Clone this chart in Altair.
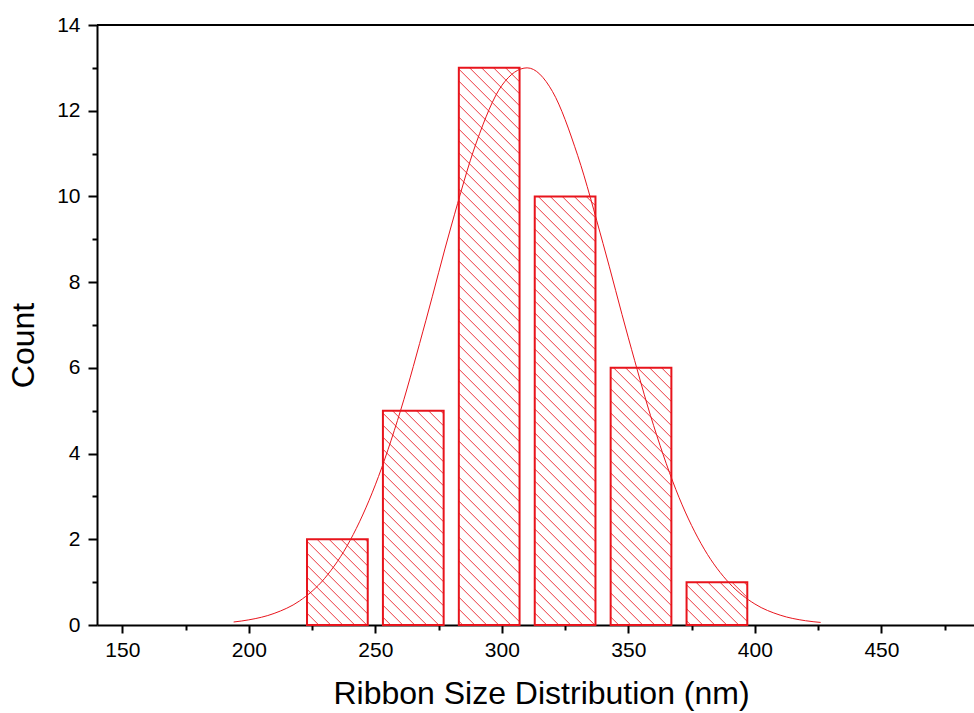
import altair as alt
import pandas as pd

# ---- data ----
bin_centers = [235, 265, 295, 325, 355, 385]
counts = [2, 5, 13, 10, 6, 1]
bar_half_width = 12

fit_x = [194, 200, 210, 220, 230, 240, 250, 260, 270, 280, 290, 300, 310,
         320, 330, 340, 350, 360, 370, 380, 390, 400, 410, 420, 426]
fit_y = [0.07, 0.12, 0.27, 0.56, 1.09, 1.97, 3.27, 5.01, 7.11, 9.31, 11.27, 12.59, 13.0,
         12.45, 10.95, 8.9, 6.7, 4.65, 2.98, 1.77, 0.97, 0.49, 0.23, 0.10, 0.06]

x_ticks = [150, 175, 200, 225, 250, 275, 300, 325, 350, 375, 400, 425, 450, 475]
y_ticks = list(range(0, 15))

X_MIN, X_MAX = 140, 486.6
Y_MIN, Y_MAX = 0, 14
W, H = 877, 600
RED = "#e8141c"
FONT = "Liberation Sans"

bars = pd.DataFrame({
    "center": bin_centers,
    "count": counts,
})
bars["x0"] = bars["center"] - bar_half_width
bars["x1"] = bars["center"] + bar_half_width
bars["y0"] = 0

# hatch lines (45 degree "\" pattern) built from bar data
px_per_nm = W / (X_MAX - X_MIN)
px_per_count = H / (Y_MAX - Y_MIN)
r = px_per_count / px_per_nm          # nm per count along a 45deg line
step = 12 / px_per_nm                 # horizontal spacing of hatch lines
segs = []
for _, b in bars.iterrows():
    x0, x1, h = b["x0"], b["x1"], b["count"]
    k = int(x0 // step) + 1
    while k * step < x1 + r * h:
        c = k * step
        ca = min(h, (c - x0) / r)
        cb = max(0.0, (c - x1) / r)
        if ca > cb:
            segs.append({"xa": c - r * ca, "ya": ca, "xb": c - r * cb, "yb": cb})
        k += 1
hatch = pd.DataFrame(segs)

fit = pd.DataFrame({"x": fit_x, "y": fit_y})

xscale = alt.Scale(domain=[X_MIN, X_MAX], nice=False, zero=False)
yscale = alt.Scale(domain=[Y_MIN, Y_MAX], nice=False, zero=False)

x_axis = alt.Axis(
    values=x_ticks,
    labelExpr="datum.value % 50 == 0 ? datum.label : ''",
    tickSize={"condition": {"test": "datum.value % 50 == 0", "value": 8}, "value": 5},
    labelPadding=6,
    grid=False,
    domainColor="black", domainWidth=2,
    tickColor="black", tickWidth=2,
    labelFont=FONT, labelFontSize=21, labelColor="black",
    labelOverlap=False,
    title="Ribbon Size Distribution (nm)",
    titleFont=FONT, titleFontSize=32, titleFontWeight="normal", titleColor="black",
    titleX=444, titleY=68, titleAlign="center", titleBaseline="middle",
)
y_axis = alt.Axis(
    values=y_ticks,
    labelExpr="datum.value % 2 == 0 ? datum.label : ''",
    tickSize={"condition": {"test": "datum.value % 2 == 0", "value": 9}, "value": 5},
    labelPadding=8,
    grid=False,
    domainColor="black", domainWidth=2,
    tickColor="black", tickWidth=2,
    labelFont=FONT, labelFontSize=21, labelColor="black",
    labelOverlap=False,
    title="Count",
    titleFont=FONT, titleFontSize=32, titleFontWeight="normal", titleColor="black",
    titleX=-74, titleY=320, titleAngle=-90, titleAlign="center", titleBaseline="middle",
)

hatch_layer = alt.Chart(hatch).mark_rule(color=RED, strokeWidth=1, opacity=0.85).encode(
    x=alt.X("xa:Q", scale=xscale, axis=x_axis),
    y=alt.Y("ya:Q", scale=yscale, axis=y_axis),
    x2="xb:Q",
    y2="yb:Q",
)

bar_layer = alt.Chart(bars).mark_rect(fill=None, stroke=RED, strokeWidth=2, fillOpacity=0).encode(
    x=alt.X("x0:Q", scale=xscale),
    x2="x1:Q",
    y=alt.Y("count:Q", scale=yscale),
    y2="y0:Q",
)

fit_layer = alt.Chart(fit).mark_line(color=RED, strokeWidth=1, interpolate="monotone").encode(
    x=alt.X("x:Q", scale=xscale),
    y=alt.Y("y:Q", scale=yscale),
)

top_border = alt.Chart(pd.DataFrame({"y": [Y_MAX]})).mark_rule(color="black", strokeWidth=2).encode(
    y=alt.Y("y:Q", scale=yscale),
)

chart = alt.layer(hatch_layer, bar_layer, fit_layer, top_border).properties(
    width=W, height=H,
    autosize=alt.AutoSizeParams(type="none"),
    padding={"left": 97, "top": 25, "right": 0, "bottom": 88},
    background="white",
).configure_view(stroke=None)

chart.save("out.html", embed_options={"renderer": "svg", "actions": False})
